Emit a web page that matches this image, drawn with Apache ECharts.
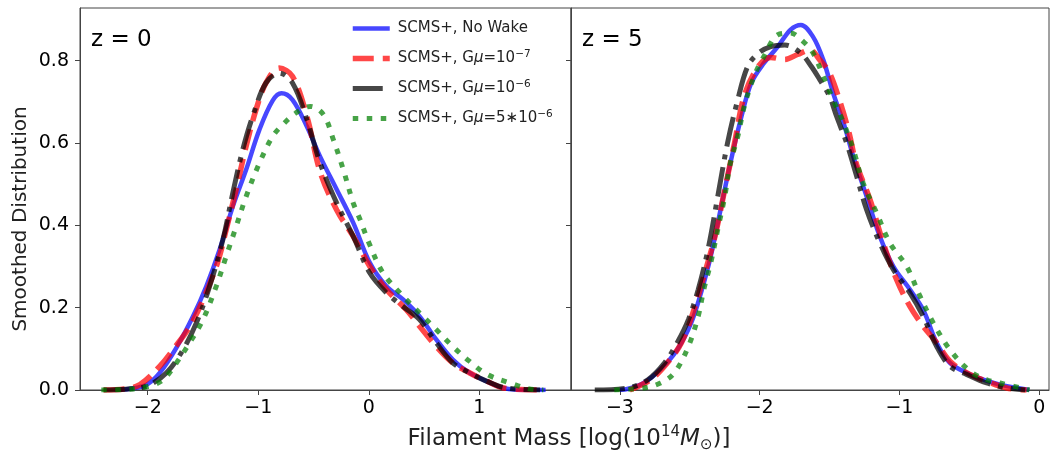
<!DOCTYPE html>
<html>
<head>
<meta charset="utf-8">
<script src="https://cdn.jsdelivr.net/npm/echarts@6/dist/echarts.min.js"></script>
<style>html,body{margin:0;padding:0;background:#fff}#c{width:1051px;height:453px}</style>
</head>
<body>
<div id="c"></div>
<script>
// ---------- data ----------
const seriesNames = ['SCMS+, No Wake', 'SCMS+, Gμ=10^-7', 'SCMS+, Gμ=10^-6', 'SCMS+, Gμ=5*10^-6'];
const panelLabels = ['z = 0', 'z = 5'];
const xTicksZ0 = [-2, -1, 0, 1];
const xTicksZ5 = [-3, -2, -1, 0];
const yTicks = [0, 0.2, 0.4, 0.6, 0.8];

// z = 0
const z0NoWakeX = [-2.30, -2.16, -2.01, -1.89, -1.74, -1.59, -1.47, -1.35, -1.23, -1.11, -0.99, -0.87, -0.79, -0.69, -0.56, -0.44, -0.29, -0.14, 0.01, 0.16, 0.31, 0.46, 0.61, 0.76, 0.91, 1.07, 1.22, 1.43, 1.60];
const z0NoWakeY = [0.000, 0.003, 0.013, 0.042, 0.103, 0.179, 0.252, 0.341, 0.446, 0.535, 0.632, 0.703, 0.721, 0.705, 0.640, 0.567, 0.487, 0.406, 0.309, 0.252, 0.220, 0.179, 0.123, 0.074, 0.042, 0.021, 0.005, 0.000, 0.000];

const z0G7X = [-2.40, -2.20, -2.07, -1.89, -1.77, -1.59, -1.38, -1.29, -1.20, -1.11, -1.02, -0.93, -0.81, -0.69, -0.56, -0.44, -0.29, -0.14, 0.01, 0.16, 0.34, 0.46, 0.61, 0.76, 0.91, 1.07, 1.22, 1.52];
const z0G7Y = [0.000, 0.003, 0.013, 0.058, 0.098, 0.168, 0.300, 0.390, 0.487, 0.592, 0.681, 0.746, 0.782, 0.762, 0.665, 0.530, 0.437, 0.373, 0.300, 0.244, 0.195, 0.155, 0.106, 0.066, 0.042, 0.021, 0.005, 0.000];

const z0G6X = [-2.40, -2.20, -2.01, -1.83, -1.68, -1.56, -1.44, -1.32, -1.23, -1.14, -1.05, -0.93, -0.81, -0.69, -0.56, -0.44, -0.29, -0.14, 0.01, 0.16, 0.31, 0.46, 0.61, 0.76, 0.91, 1.07, 1.24, 1.55];
const z0G6Y = [0.000, 0.002, 0.009, 0.042, 0.098, 0.163, 0.252, 0.365, 0.479, 0.584, 0.665, 0.746, 0.770, 0.746, 0.657, 0.551, 0.454, 0.373, 0.284, 0.236, 0.203, 0.171, 0.115, 0.066, 0.042, 0.021, 0.005, 0.000];

const z0G5X = [-2.42, -2.16, -1.98, -1.86, -1.74, -1.62, -1.50, -1.38, -1.29, -1.20, -1.11, -0.99, -0.87, -0.78, -0.66, -0.53, -0.41, -0.32, -0.23, -0.14, -0.08, 0.01, 0.13, 0.31, 0.46, 0.61, 0.76, 0.91, 1.07, 1.28, 1.49, 1.58];
const z0G5Y = [0.000, 0.002, 0.010, 0.025, 0.066, 0.115, 0.171, 0.252, 0.325, 0.397, 0.470, 0.551, 0.616, 0.644, 0.673, 0.689, 0.669, 0.608, 0.535, 0.454, 0.415, 0.352, 0.284, 0.228, 0.187, 0.147, 0.106, 0.070, 0.038, 0.017, 0.001, 0.000];

// z = 5
const z5NoWakeX = [-3.00, -2.94, -2.83, -2.71, -2.59, -2.49, -2.42, -2.35, -2.28, -2.21, -2.13, -2.06, -1.97, -1.87, -1.78, -1.705, -1.62, -1.545, -1.474, -1.40, -1.33, -1.235, -1.14, -1.043, -0.925, -0.83, -0.734, -0.639, -0.52, -0.40, -0.28, -0.07];
const z5NoWakeY = [0.000, 0.003, 0.017, 0.050, 0.098, 0.163, 0.236, 0.325, 0.438, 0.551, 0.665, 0.746, 0.794, 0.834, 0.875, 0.887, 0.859, 0.802, 0.721, 0.649, 0.567, 0.470, 0.373, 0.300, 0.244, 0.195, 0.115, 0.066, 0.042, 0.025, 0.013, 0.000];

const z5G7X = [-2.93, -2.78, -2.66, -2.56, -2.47, -2.40, -2.32, -2.25, -2.18, -2.11, -2.01, -1.92, -1.82, -1.73, -1.64, -1.57, -1.50, -1.43, -1.36, -1.31, -1.21, -1.116, -1.02, -0.925, -0.83, -0.734, -0.639, -0.52, -0.376, -0.233, -0.09];
const z5G7Y = [0.000, 0.025, 0.066, 0.115, 0.195, 0.276, 0.373, 0.487, 0.600, 0.715, 0.786, 0.808, 0.803, 0.815, 0.826, 0.802, 0.770, 0.705, 0.624, 0.551, 0.462, 0.357, 0.268, 0.203, 0.155, 0.115, 0.070, 0.042, 0.021, 0.005, 0.000];

const z5G6X = [-3.18, -2.94, -2.80, -2.68, -2.59, -2.51, -2.44, -2.37, -2.30, -2.23, -2.157, -2.086, -2.01, -1.92, -1.82, -1.705, -1.63, -1.57, -1.50, -1.45, -1.378, -1.306, -1.235, -1.14, -1.043, -0.925, -0.83, -0.734, -0.639, -0.52, -0.376, -0.233, -0.10];
const z5G6Y = [0.000, 0.005, 0.025, 0.066, 0.115, 0.171, 0.244, 0.341, 0.470, 0.600, 0.705, 0.786, 0.818, 0.834, 0.838, 0.818, 0.786, 0.754, 0.713, 0.665, 0.600, 0.519, 0.438, 0.357, 0.292, 0.236, 0.179, 0.106, 0.058, 0.038, 0.017, 0.005, 0.000];

const z5G5X = [-3.04, -2.83, -2.71, -2.61, -2.51, -2.44, -2.40, -2.35, -2.30, -2.25, -2.21, -2.157, -2.11, -2.04, -1.97, -1.87, -1.78, -1.69, -1.617, -1.545, -1.474, -1.40, -1.33, -1.26, -1.163, -1.068, -0.948, -0.853, -0.758, -0.639, -0.496, -0.376, -0.28, -0.07];
const z5G5Y = [0.000, 0.005, 0.017, 0.042, 0.106, 0.179, 0.244, 0.309, 0.390, 0.470, 0.551, 0.616, 0.689, 0.762, 0.810, 0.863, 0.867, 0.847, 0.818, 0.762, 0.705, 0.649, 0.584, 0.503, 0.430, 0.357, 0.300, 0.228, 0.163, 0.098, 0.046, 0.025, 0.017, 0.000];

// ---------- chart ----------
const FONT = 'DejaVu Sans';
const zip = (xs, ys) => xs.map((x, i) => [x, ys[i]]);
const minusFmt = v => (v < 0 ? '\u2212' : '') + Math.abs(v);

const styles = [
  { color: '#0000ff', width: 4.5, type: 'solid' },
  { color: '#ff0000', width: 5.5, type: [21, 9] },
  { color: '#000000', width: 5, type: [30, 8, 5, 8] },
  { color: '#008000', width: 5, type: [5.5, 8.5] }
];
const LINE_OPACITY = 0.72;
const panels = [
  [zip(z0NoWakeX, z0NoWakeY), zip(z0G7X, z0G7Y), zip(z0G6X, z0G6Y), zip(z0G5X, z0G5Y)],
  [zip(z5NoWakeX, z5NoWakeY), zip(z5G7X, z5G7Y), zip(z5G6X, z5G6Y), zip(z5G5X, z5G5Y)]
];

const series = [];
panels.forEach((p, pi) => {
  p.forEach((d, si) => {
    const s = styles[si];
    series.push({
      name: seriesNames[si],
      type: 'line',
      xAxisIndex: pi, yAxisIndex: pi,
      data: d,
      smooth: 0.35,
      showSymbol: false,
      symbol: 'none',
      silent: true,
      animation: false,
      z: 2 + si,
      lineStyle: { color: s.color, width: s.width, type: s.type, opacity: LINE_OPACITY, cap: 'butt' },
      itemStyle: { color: s.color, opacity: LINE_OPACITY }
    });
  });
});

const axisColor = '#444';
function xAxis(gi, min, max, ticks) {
  return {
    type: 'value', gridIndex: gi, min: min, max: max,
    axisLine: { show: true, onZero: false, lineStyle: { color: axisColor, width: 1 } },
    axisTick: { show: true, length: 5, customValues: ticks, lineStyle: { color: axisColor } },
    axisLabel: { show: true, customValues: ticks, formatter: minusFmt, fontFamily: FONT, fontSize: 19, color: '#000', margin: 9 },
    splitLine: { show: false }
  };
}
function yAxis(gi, showLabel) {
  return {
    type: 'value', gridIndex: gi, min: 0, max: 0.928,
    axisLine: { show: true, onZero: false, lineStyle: { color: axisColor, width: 1 } },
    axisTick: { show: true, length: 5, customValues: yTicks, lineStyle: { color: axisColor } },
    axisLabel: { show: showLabel, customValues: yTicks, formatter: v => v.toFixed(1), fontFamily: FONT, fontSize: 19, color: '#000', margin: 11 },
    splitLine: { show: false }
  };
}

const legendRich = {
  t: { fontFamily: FONT, fontSize: 15, color: '#222', lineHeight: 20 },
  mu: { fontFamily: FONT, fontStyle: 'italic', fontSize: 15, color: '#222', lineHeight: 20 },
  sup: { fontFamily: FONT, fontSize: 10.5, color: '#222', verticalAlign: 'top', lineHeight: 11 }
};
function legendFmt(name) {
  const m = name.match(/^(SCMS\+, G)μ=(.*)\^(-\d)$/);
  if (!m) return '{t|' + name + '}';
  return '{t|' + m[1] + '}{mu|μ}{t|=' + m[2].replace('*', '\u2217') + '}{sup|' + m[3].replace('-', '\u2212') + '}';
}
const legendData = seriesNames.map((n, i) => ({
  name: n,
  itemStyle: { opacity: 0 },
  lineStyle: { color: styles[i].color, width: styles[i].width, type: styles[i].type, opacity: LINE_OPACITY, cap: 'butt' }
}));

const option = {
  backgroundColor: '#fff',
  animation: false,
  grid: [
    { left: 80, top: 8, width: 491, height: 382, show: true, borderColor: axisColor, borderWidth: 1, backgroundColor: 'transparent' },
    { left: 571, top: 8, width: 478, height: 382, show: true, borderColor: axisColor, borderWidth: 1, backgroundColor: 'transparent' }
  ],
  xAxis: [xAxis(0, -2.613, 1.83, xTicksZ0), xAxis(1, -3.35, 0.07, xTicksZ5)],
  yAxis: [yAxis(0, true), yAxis(1, false)],
  legend: {
    data: legendData,
    orient: 'vertical',
    left: 350, top: 21, padding: 0,
    itemWidth: 37, itemHeight: 14, itemGap: 12.5,
    formatter: legendFmt,
    textStyle: { rich: legendRich, padding: [0, 0, 0, 3] },
    selectedMode: false
  },
  graphic: [
    { type: 'text', left: 91, top: 29, style: { text: panelLabels[0], font: '23px "DejaVu Sans"', fill: '#000' } },
    { type: 'text', left: 582, top: 29, style: { text: panelLabels[1], font: '23px "DejaVu Sans"', fill: '#000' } },
    { type: 'text', x: 21, y: 219, rotation: Math.PI / 2, style: { text: 'Smoothed Distribution', font: '20px "DejaVu Sans"', fill: '#222', align: 'center', verticalAlign: 'middle' } },
    { type: 'text', x: 569, y: 439,
      style: {
        text: '{t|Filament Mass [log(10}{sup|14}{it|M}{sub|⊙}{t|)]}',
        align: 'center', verticalAlign: 'middle',
        rich: {
          t: { fontFamily: FONT, fontSize: 23, fill: '#222', lineHeight: 28 },
          it: { fontFamily: FONT, fontStyle: 'italic', fontSize: 23, fill: '#222', lineHeight: 28 },
          sup: { fontFamily: FONT, fontSize: 15, fill: '#222', verticalAlign: 'top', lineHeight: 15 },
          sub: { fontFamily: FONT, fontSize: 15, fill: '#222', verticalAlign: 'bottom', lineHeight: 12 }
        }
      }
    }
  ],
  series: series
};

const chart = echarts.init(document.getElementById('c'), null, { renderer: 'canvas' });
chart.setOption(option);
</script>
</body>
</html>
